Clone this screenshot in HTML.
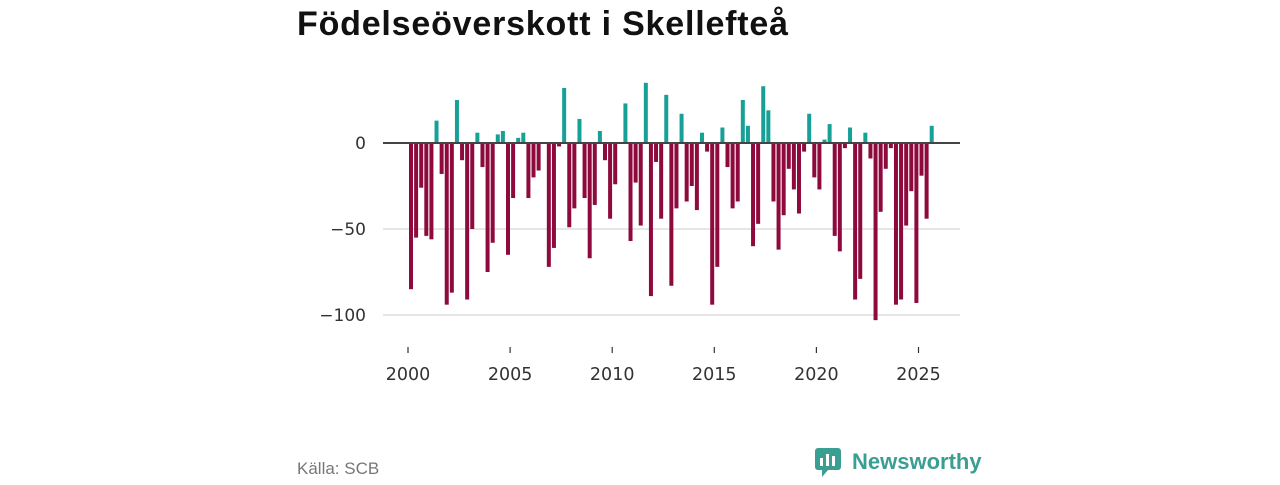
<!DOCTYPE html>
<html><head><meta charset="utf-8"><style>
body{margin:0;background:#fff;width:1280px;height:480px;overflow:hidden;font-family:"Liberation Sans",sans-serif}
</style></head><body>
<svg width="1280" height="480">
<text x="297" y="35" font-size="34" letter-spacing="0.8" font-weight="bold" fill="#111">Födelseöverskott i Skellefteå</text>
<g id="grid"></g><g id="bars"></g><g id="axes"></g>
<text x="297" y="474" font-size="17" fill="#777">Källa: SCB</text>
<g>
<rect x="815" y="448" width="26" height="22" rx="3" fill="#3a9e92"/>
<path d="M822 470 L828 470 L822 477 Z" fill="#3a9e92"/>
<rect x="820" y="458" width="3" height="8" fill="#fff"/><rect x="826" y="454" width="3" height="12" fill="#fff"/><rect x="832" y="456" width="3" height="10" fill="#fff"/>
<text x="852" y="469" font-size="22" font-weight="bold" fill="#3a9e92">Newsworthy</text>
</g>
</svg>
<script>
const startYear = 2000;
const values = [-85,-55,-26,-54,-56,13,-18,-94,-87,25,-10,-91,-50,6,-14,-75,-58,5,7,-65,-32,3,6,-32,-20,-16,0,-72,-61,-2,32,-49,-38,14,-32,-67,-36,7,-10,-44,-24,0,23,-57,-23,-48,35,-89,-11,-44,28,-83,-38,17,-34,-25,-39,6,-5,-94,-72,9,-14,-38,-34,25,10,-60,-47,33,19,-34,-62,-42,-15,-27,-41,-5,17,-20,-27,2,11,-54,-63,-3,9,-91,-79,6,-9,-103,-40,-15,-3,-94,-91,-48,-28,-93,-19,-44,10];
const yTicks = [0,-50,-100];
const xTicks = [2000,2005,2010,2015,2020,2025];
const NS='http://www.w3.org/2000/svg';
const y = v => 143 - v*1.72;
const xq = i => 411 + i*5.105;
const xy = yr => 408 + (yr-2000)*20.42;
const grid=document.getElementById('grid'), bars=document.getElementById('bars'), axes=document.getElementById('axes');
function mk(tag,attrs,parent){const e=document.createElementNS(NS,tag);for(const k in attrs)e.setAttribute(k,attrs[k]);parent.appendChild(e);return e;}
yTicks.forEach(t=>{
  if(t!==0){const l=mk('line',{x1:383,x2:960,y1:y(t),y2:y(t),stroke:'#ddd','stroke-width':1.5},grid);
  
  }
  const tx=mk('text',{x:366,y:y(t)+6,'text-anchor':'end','font-size':17,'font-family':'DejaVu Sans, sans-serif',fill:'#333'},axes);
  tx.textContent=t<0?'\u2212'+Math.abs(t):String(t);
  
  
});
values.forEach((v,i)=>{
  const r=mk('rect',{x:xq(i)-2,width:4,y:v>=0?y(v):y(0),height:Math.abs(v)*1.72,fill:v>=0?'#16a096':'#8e0a3c'},bars);
  
  
});
const zl=mk('line',{x1:383,x2:960,y1:y(0),y2:y(0),stroke:'#444','stroke-width':2},axes);


xTicks.forEach(t=>{
  const l=mk('line',{x1:xy(t),x2:xy(t),y1:347,y2:353,stroke:'#333','stroke-width':1.2},axes);
  
  
  const tx=mk('text',{x:xy(t),y:380,'text-anchor':'middle','font-size':17.5,'font-family':'DejaVu Sans, sans-serif',fill:'#333'},axes);
  tx.textContent=t;
  
  
});
</script>
</body></html>
